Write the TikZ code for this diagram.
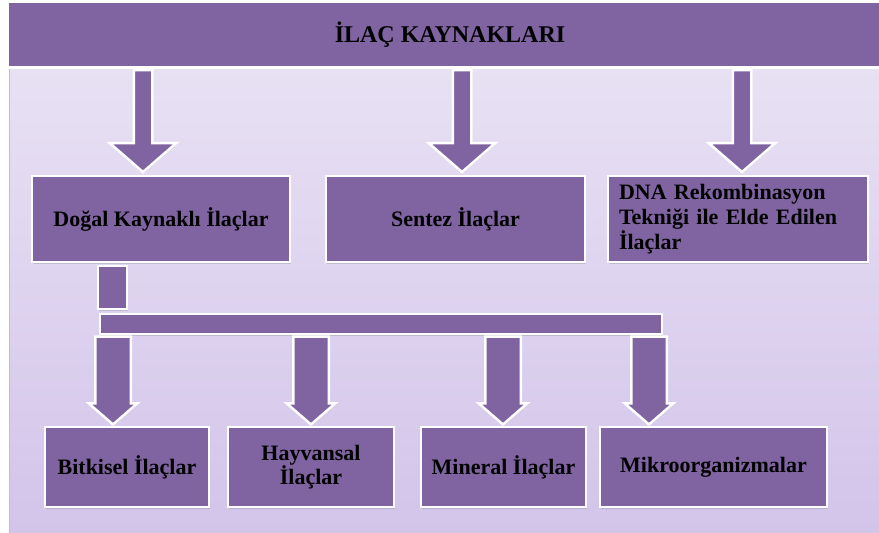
\documentclass[tikz,border=0pt]{standalone}
\usepackage{fontspec}
\setmainfont{Liberation Serif}
\usetikzlibrary{shapes.arrows, shadows}

\definecolor{boxpurple}{HTML}{8064A2}
\definecolor{bgtop}{HTML}{EBE5F5}
\definecolor{bgbottom}{HTML}{D3C4EA}

\begin{document}
\begin{tikzpicture}[x=1pt, y=-1pt,
        box/.style={rectangle, draw=white, line width=2.5pt, fill=boxpurple, inner sep=0pt,
            align=center, font=\fontsize{22}{24}\selectfont\bfseries,
            drop shadow={shadow xshift=1.2pt, shadow yshift=-1.8pt, opacity=0.3}},
        bigarrow/.style={single arrow, draw=white, line width=2.5pt, fill=boxpurple, inner ysep=0pt,
            shape border rotate=270, single arrow tip angle=98, anchor=tail,
            drop shadow={shadow xshift=1pt, shadow yshift=-1pt, opacity=0.25}},
        toparrow/.style={bigarrow, inner xsep=8pt, minimum width=64pt, single arrow head extend=24pt, minimum height=102pt},
        subarrow/.style={bigarrow, inner xsep=16.5pt, minimum width=47pt, single arrow head extend=6.5pt, minimum height=88pt}
    ]
    \clip (0,0) rectangle (879,533);

    % arka plan
    \shade[top color=bgtop, bottom color=bgbottom] (9,0) rectangle (879,533);
    \draw[black!25, line width=0.8pt] (9,60) -- (9,533);

    % baslik
    \node[box, minimum width=884pt, minimum height=66pt, font=\fontsize{24}{26}\selectfont\bfseries]
        (title) at (450,34.5) {İLAÇ KAYNAKLARI};

    % ilac kaynaklari
    \node[box, minimum width=258pt, minimum height=86pt] (dogal) at (161,219) {Doğal Kaynaklı İlaçlar};
    \node[box, minimum width=259pt, minimum height=86pt] (sentez) at (455.5,219) {Sentez İlaçlar};
    \node[box, minimum width=260pt, minimum height=86pt, align=left, text width=238pt,
        font=\fontsize{22}{25}\selectfont\bfseries] (dna) at (738,219)
        {DNA Rekombinasyon\\Tekniği ile Elde Edilen\\İlaçlar};

    \node[toparrow] (arrDogal) at (143,0 |- title.south) {};
    \node[toparrow] (arrSentez) at (462,0 |- title.south) {};
    \node[toparrow] (arrDna) at (742,0 |- title.south) {};

    % dogal kaynakli dallar
    \node[box, minimum width=29pt, minimum height=43pt] (stem) at (112.5,287.5) {};
    \node[box, minimum width=562pt, minimum height=20pt] (branch) at (381,324) {};

    \node[box, minimum width=164pt, minimum height=80pt] (bitkisel) at (127,467) {Bitkisel İlaçlar};
    \node[box, minimum width=166pt, minimum height=80pt] (hayvansal) at (311,467) {Hayvansal\\İlaçlar};
    \node[box, minimum width=165pt, minimum height=80pt] (mineral) at (503.5,467) {Mineral İlaçlar};
    \node[box, minimum width=227pt, minimum height=80pt] (mikro) at (713.5,467) {Mikroorganizmalar};

    \node[subarrow] (arrBitkisel) at (113,0 |- branch.south) {};
    \node[subarrow] (arrHayvansal) at (311,0 |- branch.south) {};
    \node[subarrow] (arrMineral) at (503,0 |- branch.south) {};
    \node[subarrow] (arrMikro) at (649,0 |- branch.south) {};
\end{tikzpicture}
\end{document}
